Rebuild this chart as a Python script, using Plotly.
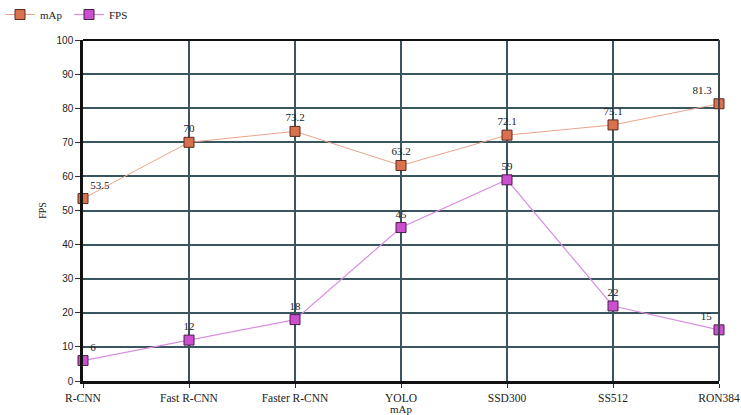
import plotly.graph_objects as go

categories = ["R-CNN", "Fast R-CNN", "Faster R-CNN", "YOLO", "SSD300", "SS512", "RON384"]
map_values = [53.5, 70, 73.2, 63.2, 72.1, 75.1, 81.3]
fps_values = [6, 12, 18, 45, 59, 22, 15]
y_ticks = [0, 10, 20, 30, 40, 50, 60, 70, 80, 90, 100]

FONT = "Liberation Serif"
positions = ["top right"] + ["top center"] * (len(categories) - 2) + ["top left"]

fig = go.Figure()
fig.add_trace(go.Scatter(
    x=categories, y=map_values, name="mAp", mode="lines+markers+text",
    text=[str(v) for v in map_values], textposition=positions,
    textfont=dict(family=FONT, size=11, color="#222"),
    line=dict(color="#e8a58a", width=1),
    marker=dict(symbol="square", size=10, color="#d9714f", line=dict(color="#5a2a20", width=1)),
    cliponaxis=False,
))
fig.add_trace(go.Scatter(
    x=categories, y=fps_values, name="FPS", mode="lines+markers+text",
    text=[str(v) for v in fps_values], textposition=positions,
    textfont=dict(family=FONT, size=11, color="#222"),
    line=dict(color="#d98ee0", width=1.2),
    marker=dict(symbol="square", size=10, color="#cc4fcf", line=dict(color="#4a1f4a", width=1)),
    cliponaxis=False,
))
fig.update_layout(
    width=741, height=415,
    margin=dict(l=83, r=22, t=40, b=34, autoexpand=False),
    paper_bgcolor="white", plot_bgcolor="white",
    font=dict(family=FONT, size=11, color="#222"),
    showlegend=True,
    legend=dict(orientation="h", xref="container", yref="container", x=0.0, xanchor="left",
                y=1.0, yanchor="top", font=dict(family=FONT, size=11), itemwidth=30,
                entrywidth=24, bgcolor="rgba(0,0,0,0)", tracegroupgap=0),
    xaxis=dict(type="category", range=[0, 6], showgrid=True, gridcolor="#3a5560", gridwidth=1.5,
               showline=True, linecolor="#111", linewidth=2.5, mirror=False,
               ticks="outside", ticklen=4, tickcolor="#333", ticklabeloverflow="allow",
               title=dict(text="mAp", font=dict(family=FONT, size=11), standoff=1),
               zeroline=False, tickfont=dict(family=FONT, size=11.5), automargin=False),
    yaxis=dict(range=[0, 100], tickvals=y_ticks, showgrid=True, gridcolor="#3a5560", gridwidth=1.5,
               showline=True, linecolor="#111", linewidth=2.5,
               ticks="outside", ticklen=5, tickcolor="#333",
               title=dict(text="FPS", font=dict(family=FONT, size=10), standoff=9),
               zeroline=False, tickfont=dict(family="Liberation Sans", size=10), automargin=False),
)
# top and right borders
fig.add_shape(type="line", xref="paper", yref="paper", x0=0, x1=1, y0=1, y1=1,
              line=dict(color="#111", width=2))
fig.add_shape(type="line", xref="paper", yref="paper", x0=1, x1=1, y0=0, y1=1,
              line=dict(color="#3a4a50", width=2))
fig.write_html("out.html", config={"displayModeBar": False},
               post_script="document.body.style.margin='0';document.body.style.overflow='hidden';")
